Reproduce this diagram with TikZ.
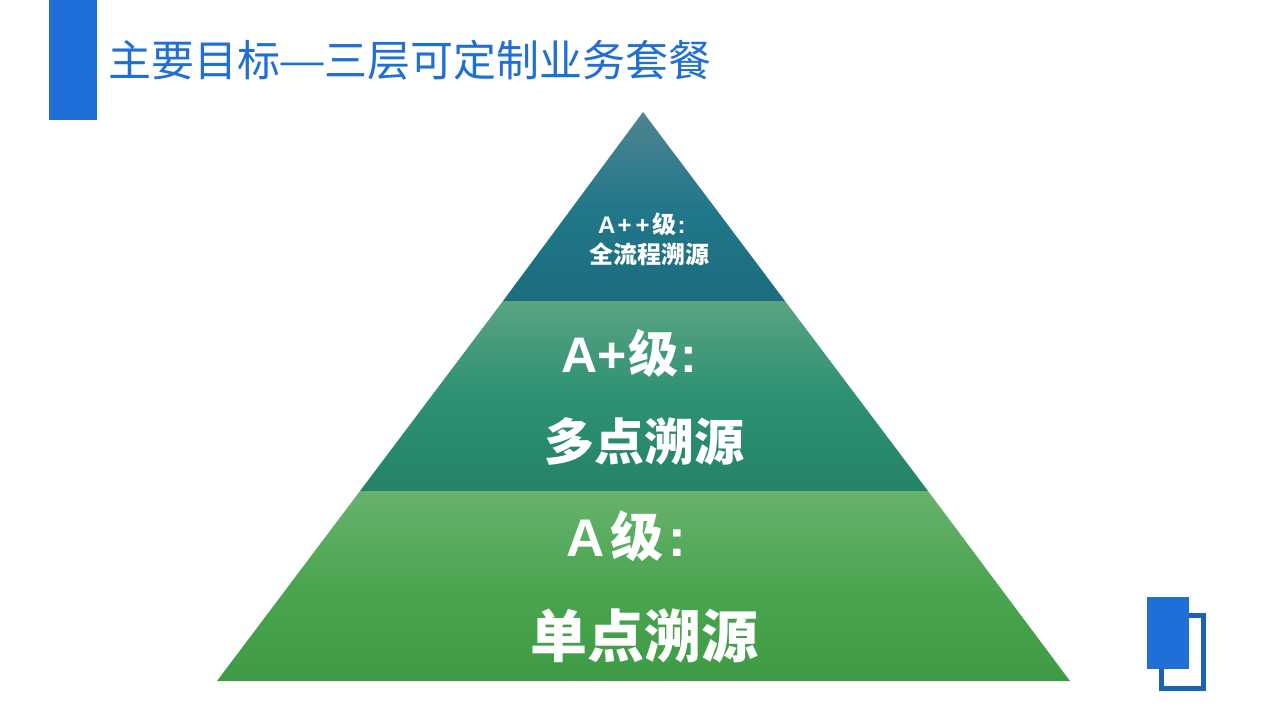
\documentclass[tikz,border=0pt]{standalone}
\usepackage{fontspec}
\setmainfont{Noto Sans CJK SC}
\newfontfamily\latinb{Liberation Sans}
\usetikzlibrary{positioning,calc}
\definecolor{titleblue}{HTML}{1F6FD6}
\definecolor{darkblue}{HTML}{1D62B0}
\definecolor{tealA}{RGB}{79,131,146}
\definecolor{tealB}{RGB}{33,120,138}
\definecolor{tealC}{RGB}{27,108,126}
\definecolor{seaA}{RGB}{90,163,130}
\definecolor{seaB}{RGB}{46,145,115}
\definecolor{seaC}{RGB}{36,130,104}
\definecolor{leafA}{RGB}{104,178,108}
\definecolor{leafB}{RGB}{75,165,80}
\definecolor{leafC}{RGB}{62,155,68}
\tikzset{
  layertext/.style={text=white,inner sep=0pt},
  bluebox/.style={fill=titleblue,draw=none},
}
\begin{document}
\begin{tikzpicture}[x=1pt,y=-1pt]
\useasboundingbox (0,0) rectangle (1280,720);
\fill[white] (0,0) rectangle (1280,720);
% title
\fill[bluebox] (49,0) rectangle (97,120);
\node[anchor=west,inner sep=0pt,text=titleblue,font=\fontsize{43}{43}\selectfont] (Title) at (108,60) {主要目标\hspace{-2pt}\resizebox{48pt}{\height}{—}\hspace{-2pt}三层可定制业务套餐};
% layers
\coordinate (Top) at (643,112);
\coordinate (Lup) at (503,301);
\coordinate (Rup) at (785,301);
\coordinate (Lmid) at (360,491);
\coordinate (Rmid) at (928,491);
\coordinate (Lbot) at (217,681);
\coordinate (Rbot) at (1070,681);
\shade[top color=tealA,bottom color=tealC,middle color=tealB] (Top) -- (Rup) -- (Lup) -- cycle;
\shade[top color=seaA,bottom color=seaC,middle color=seaB] (Lup) -- (Rup) -- (Rmid) -- (Lmid) -- cycle;
\shade[top color=leafA,bottom color=leafC,middle color=leafB] (Lmid) -- (Rmid) -- (Rbot) -- (Lbot) -- cycle;
% labels
\node[layertext,anchor=west,font=\bfseries\fontsize{24}{24}\selectfont] (Apptop) at (598,224) {{\latinb A\hspace{2pt}+\hspace{4pt}+}\hspace{3pt}级{\latinb\hspace{1pt}:}};
\node[layertext,anchor=center,font=\bfseries\fontsize{24}{24}\selectfont] (Appbot) at (649,254) {全流程溯源};
\node[layertext,anchor=west,font=\bfseries\fontsize{50}{50}\selectfont] (Aptop) at (561,353) {{\latinb A+}\hspace{2pt}级{\latinb\hspace{2pt}:}};
\node[layertext,anchor=center,font=\bfseries\fontsize{50}{50}\selectfont] (Apbot) at (644,441) {多点溯源};
\node[layertext,anchor=west,font=\bfseries\fontsize{53}{53}\selectfont] (Atop) at (566,536) {{\latinb A}\hspace{6pt}级{\latinb\hspace{5pt}:}};
\node[layertext,anchor=center,font=\bfseries\fontsize{57}{57}\selectfont] (Abot) at (644,636) {单点溯源};
% corner mark
\draw[darkblue,line width=5pt] (1161.5,615.5) rectangle (1203.5,688.5);
\fill[bluebox] (1147,597) rectangle (1189,669);
\end{tikzpicture}
\end{document}
